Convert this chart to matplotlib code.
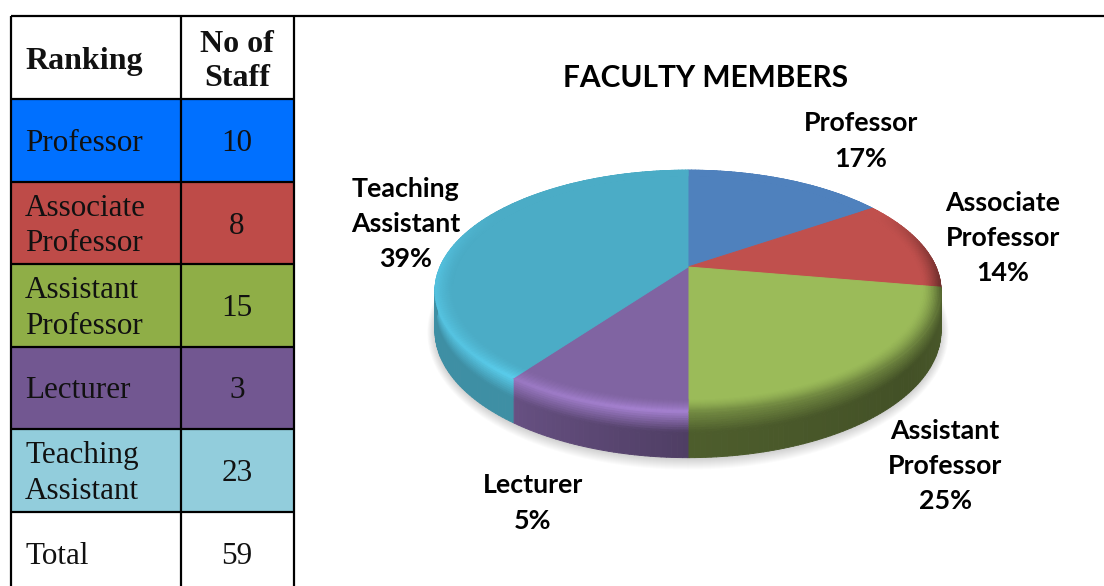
"""
plot.py - staff table on the left, 3D looking pie of faculty members on the right.
"""

import matplotlib
matplotlib.use("Agg")
import matplotlib.pyplot as plt
import numpy as np
from matplotlib.collections import PolyCollection
from matplotlib.patches import Rectangle

# ---------------------------------------------------------------------------
# Data
# ---------------------------------------------------------------------------

ranks = ["Professor", "Associate\nProfessor", "Assistant\nProfessor", "Lecturer", "Teaching\nAssistant"]
staff = [10, 8, 15, 3, 23]
total = 59
pie_labels = ["Professor", "Associate\nProfessor", "Assistant\nProfessor", "Lecturer", "Teaching\nAssistant"]
# share of the circle each slice takes as drawn in the picture (not the same as the labels)
drawn_share = [15.5, 12.2, 22.3, 10.1, 39.9]

cell_colors = ["#0070FF", "#BE4B48", "#8FAE47", "#725791", "#92CDDC"]
slice_colors = ["#4F81BD", "#C0504D", "#9BBB59", "#8064A2", "#4BACC6"]

# ---------------------------------------------------------------------------
# Layout (pixels)
# ---------------------------------------------------------------------------

W, H = 1104, 586
COL_X = [11, 181, 294]
ROW_Y = [16, 99, 182, 264, 347, 429, 512, 586]
LABEL_POS = [(861, 141), (1003, 238), (945, 466), (533, 503), (406, 224)]
TEXT_DY = 3

CX, CY = 688, 267
PIE_A, PIE_B, PIE_K = 248, 116, 0.198


def project(r, theta):
    """Unit disc (clockwise degrees from top) to screen, with some perspective."""
    t = np.radians(theta)
    u, v = r * np.sin(t), r * np.cos(t)
    d = 1 + PIE_K * v
    return CX + PIE_A * u / d, CY - PIE_B * v / d


def wall_depth(theta):
    return 38 + 8 * np.clip(-np.cos(np.radians(theta)), 0, 1)


def rim_mult(theta):
    return np.interp(theta, [0, 60, 80, 100, 130, 179.9, 180, 190, 216, 230, 270, 300, 360],
                     [1, 1, .75, .55, .7, .75, 1.29, 1.29, 1.2, 1.15, 1.12, 1, 1])


def wall_mult(theta):
    return np.interp(theta, [0, 90, 130, 179.9, 180, 215, 216, 270, 360],
                     [.5, .5, .43, .5, .62, .8, .83, .83, .83])


def shade(color, m):
    return tuple(np.clip(np.array(matplotlib.colors.to_rgb(color)) * m, 0, 1))


fig = plt.figure(figsize=(W / 100, H / 100), dpi=100)
ax = fig.add_axes([0, 0, 1, 1])
ax.set_xlim(0, W)
ax.set_ylim(H, 0)
ax.axis("off")

# ---------------------------------------------------------------------------
# Table
# ---------------------------------------------------------------------------

SERIF = "Liberation Serif"
TXT = "#111111"
for i, col in enumerate(cell_colors):
    ax.add_patch(Rectangle((COL_X[0], ROW_Y[i + 1]), COL_X[2] - COL_X[0], ROW_Y[i + 2] - ROW_Y[i + 1],
                           facecolor=col, edgecolor="none", zorder=1))

for x in COL_X:
    ax.plot([x, x], [ROW_Y[0], H], color="black", lw=1.6, zorder=2, solid_capstyle="butt")
for y in ROW_Y[1:-1]:
    ax.plot([COL_X[0], COL_X[2]], [y, y], color="black", lw=1.6, zorder=2, solid_capstyle="butt")
ax.plot([COL_X[0], W], [ROW_Y[0], ROW_Y[0]], color="black", lw=1.6, zorder=2, solid_capstyle="butt")

name_x = COL_X[0] + 14
num_x = (COL_X[1] + COL_X[2]) / 2 - 0.5
ax.text(name_x, (ROW_Y[0] + ROW_Y[1]) / 2 + 1 + TEXT_DY, "Ranking", family=SERIF, weight="bold", fontsize=23,
        ha="left", va="center", color=TXT, zorder=3)
ax.text(num_x, (ROW_Y[0] + ROW_Y[1]) / 2 + 1 + TEXT_DY, "No of\nStaff", family=SERIF, weight="bold", fontsize=23,
        ha="center", va="center", color=TXT, linespacing=1.24, zorder=3)
for i, (name, n) in enumerate(zip(ranks, staff)):
    mid = (ROW_Y[i + 1] + ROW_Y[i + 2]) / 2 + TEXT_DY
    ax.text(name_x, mid, name, family=SERIF, fontsize=22.4, ha="left", va="center",
            color=TXT, linespacing=1.29, zorder=3)
    ax.text(num_x, mid, str(n), family=SERIF, fontsize=22.4, ha="center", va="center", color=TXT, zorder=3)
ax.text(name_x, 553 + TEXT_DY, "Total", family=SERIF, fontsize=22.4, ha="left", va="center", color=TXT, zorder=3)
ax.text(num_x, 553 + TEXT_DY, str(total), family=SERIF, fontsize=22.4, ha="center", va="center", color=TXT, zorder=3)

# ---------------------------------------------------------------------------
# Pie
# ---------------------------------------------------------------------------

edges = np.concatenate([[0], np.cumsum(drawn_share)]) / np.sum(drawn_share) * 360
STEP = 1.0

# soft shadow under the pie
all_t = np.arange(0, 360, 2.0)
sx, sy = project(1.0, all_t)
sy = sy + wall_depth(all_t) + 1
mx, my = sx.mean(), sy.mean()
for grow in np.arange(11, -1, -1):
    fx = 1 + 0.7 * grow / (sx.max() - mx)
    fy = 1 + grow / (sy.max() - my)
    ax.fill(mx + (sx - mx) * fx, my + (sy - my) * fy, color="black", alpha=.014, lw=0, zorder=4)

polys, cols = [], []

# outer wall
wall_steps = [0, .05, .1, .15, .2, .25, .3, .35, .4, .45, .5, 1]
for a, b, col in zip(edges[:-1], edges[1:], slice_colors):
    for t0 in np.arange(a, b, STEP):
        t1 = min(t0 + STEP, b)
        x0, y0 = project(1.0, t0)
        x1, y1 = project(1.0, t1)
        for s0, s1 in zip(wall_steps[:-1], wall_steps[1:]):
            d0, d1 = wall_depth(t0), wall_depth(t1)
            polys.append([(x0, y0 + d0 * s0), (x1, y1 + d1 * s0), (x1, y1 + d1 * s1), (x0, y0 + d0 * s1)])
            top, low = rim_mult(t0), wall_mult(t0)
            f = min((s0 + s1) / 2 / .45, 1)
            cols.append(shade(col, top + (low - top) * f))

# flat top and bevelled rim
RING_R = np.linspace(.93, 1.0, 13)
for a, b, col in zip(edges[:-1], edges[1:], slice_colors):
    t = np.arange(a, b + STEP / 2, STEP)
    t[-1] = b
    x, y = project(RING_R[0], t)
    polys.append([(CX, CY)] + list(zip(x, y)))
    cols.append(shade(col, 1))
    for t0 in np.arange(a, b, STEP):
        t1 = min(t0 + STEP, b)
        for j in range(len(RING_R) - 1):
            r0, r1 = RING_R[j], RING_R[j + 1]
            p = [project(r0, t0), project(r0, t1), project(r1, t1), project(r1, t0)]
            polys.append(p)
            f = ((j + .5) / (len(RING_R) - 1)) ** 1.5
            cols.append(shade(col, 1 + (rim_mult(t0) - 1) * f))

ax.add_collection(PolyCollection(polys, facecolors=cols, edgecolors=cols, linewidths=.7, zorder=5))

# ---------------------------------------------------------------------------
# Title and slice labels
# ---------------------------------------------------------------------------

SANS = "Lato"
ax.text(706, 78, "FACULTY MEMBERS", family=SANS, weight="bold", fontsize=21.5,
        ha="center", va="center", color="black", zorder=6)
for name, n, (lx, ly) in zip(pie_labels, staff, LABEL_POS):
    ax.text(lx, ly, f"{name}\n{round(100 * n / total)}%", family=SANS, weight="bold", fontsize=19.3,
            ha="center", va="center", color="black", linespacing=1.57, zorder=6)

fig.savefig("out.png", dpi=100, facecolor="white")
